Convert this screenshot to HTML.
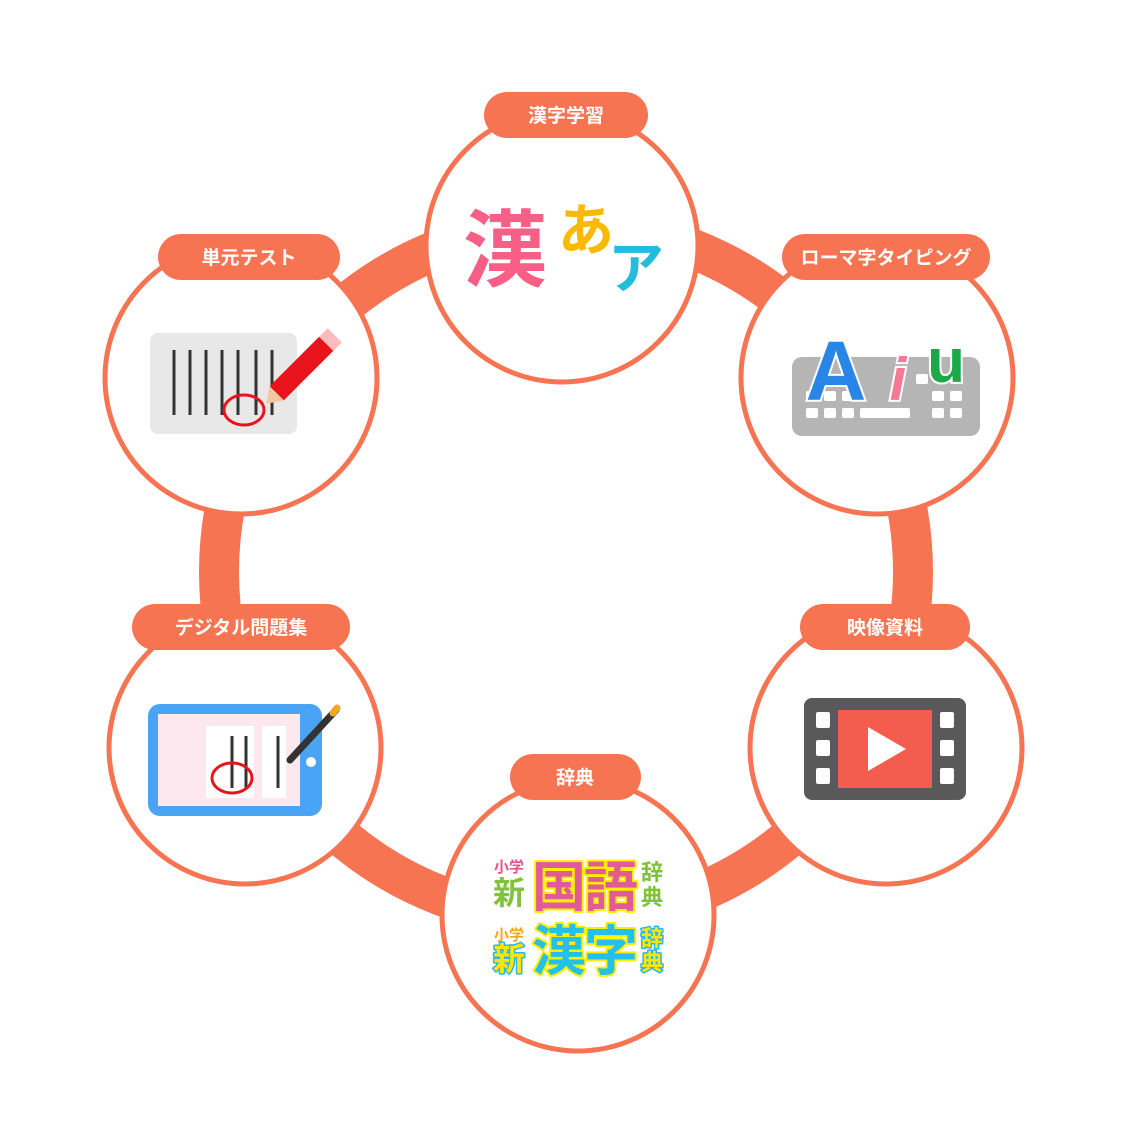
<!DOCTYPE html>
<html><head><meta charset="utf-8"><style>
html,body{margin:0;padding:0;background:#fff}
svg{display:block}
text{font-family:"Liberation Sans","Noto Sans CJK JP",sans-serif;font-weight:bold}
</style></head><body>
<svg width="1124" height="1125" viewBox="0 0 1124 1125" xmlns="http://www.w3.org/2000/svg">
<circle cx="566" cy="572" r="347" fill="none" stroke="#f67452" stroke-width="40"/>
<g fill="#fff" stroke="#f67452" stroke-width="5">
<circle cx="562" cy="246" r="136"/>
<circle cx="241" cy="378" r="136"/>
<circle cx="877" cy="378" r="136"/>
<circle cx="886" cy="748" r="136"/>
<circle cx="578" cy="915" r="136"/>
<circle cx="245" cy="748" r="136"/>
</g>
<g fill="#f67452">
<rect x="484" y="92" width="164" height="46" rx="23"/>
<rect x="158" y="234" width="182" height="46" rx="23"/>
<rect x="782" y="234" width="208" height="46" rx="23"/>
<rect x="800" y="604" width="170" height="46" rx="23"/>
<rect x="132" y="604" width="218" height="46" rx="23"/>
<rect x="510" y="754" width="131" height="46" rx="23"/>
</g>
<g fill="#fff" font-size="19" text-anchor="middle">
<text x="566" y="122">漢字学習</text>
<text x="249" y="264">単元テスト</text>
<text x="886" y="264">ローマ字タイピング</text>
<text x="885" y="634">映像資料</text>
<text x="241" y="634">デジタル問題集</text>
<text x="575" y="784">辞典</text>
</g>
<!-- kanji icon -->
<text x="505" y="280" font-size="84" fill="#f75f86" text-anchor="middle">漢</text>
<text x="586" y="250" font-size="56" fill="#fbb900" text-anchor="middle">あ</text>
<text x="636" y="288" font-size="56" fill="#22bcdc" text-anchor="middle">ア</text>
<!-- test icon -->
<rect x="150" y="333" width="147" height="101" rx="8" fill="#e8e8e8"/>
<g stroke="#333" stroke-width="3">
<line x1="174" y1="350" x2="174" y2="415"/><line x1="190" y1="350" x2="190" y2="415"/>
<line x1="206" y1="350" x2="206" y2="415"/><line x1="222" y1="350" x2="222" y2="415"/>
<line x1="238" y1="350" x2="238" y2="415"/><line x1="256" y1="350" x2="256" y2="415"/>
<line x1="272" y1="350" x2="272" y2="415"/>
</g>
<ellipse cx="244" cy="410" rx="20" ry="15" fill="none" stroke="#e8141c" stroke-width="3"/>
<g transform="rotate(-45 305 365)">
<rect x="265" y="355" width="70" height="20" fill="#e8141c"/>
<rect x="335" y="355" width="12" height="20" fill="#fbb" />
<polygon points="265,355 250,365 265,375" fill="#f5c7a0"/>
</g>
<!-- keyboard -->
<rect x="792" y="357" width="188" height="79" rx="10" fill="#b5b5b5"/>
<g fill="#fff">
<rect x="806" y="391" width="12" height="10" rx="2"/><rect x="824" y="391" width="12" height="10" rx="2"/><rect x="842" y="391" width="12" height="10" rx="2"/><rect x="932" y="391" width="12" height="10" rx="2"/><rect x="950" y="391" width="12" height="10" rx="2"/>
<rect x="806" y="408" width="12" height="10" rx="2"/><rect x="824" y="408" width="12" height="10" rx="2"/><rect x="842" y="408" width="12" height="10" rx="2"/><rect x="860" y="408" width="50" height="10" rx="2"/><rect x="932" y="408" width="12" height="10" rx="2"/><rect x="950" y="408" width="12" height="10" rx="2"/>
<rect x="916" y="374" width="12" height="10" rx="2"/><rect x="950" y="374" width="12" height="10" rx="2"/>
</g>
<text x="836" y="400" font-size="84" fill="#2a86e6" text-anchor="middle" stroke="#fff" stroke-width="4" paint-order="stroke">A</text>
<text x="898" y="400" font-size="60" fill="#f47995" text-anchor="middle" stroke="#fff" stroke-width="4" paint-order="stroke" font-style="italic">i</text>
<text x="946" y="382" font-size="62" fill="#1ba848" text-anchor="middle" stroke="#fff" stroke-width="4" paint-order="stroke">u</text>
<!-- film -->
<rect x="804" y="698" width="162" height="102" rx="8" fill="#595959"/>
<rect x="838" y="710" width="94" height="78" fill="#f45c4d"/>
<g fill="#fff">
<rect x="816" y="712" width="14" height="16" rx="2"/><rect x="816" y="740" width="14" height="16" rx="2"/><rect x="816" y="768" width="14" height="16" rx="2"/>
<rect x="940" y="712" width="14" height="16" rx="2"/><rect x="940" y="740" width="14" height="16" rx="2"/><rect x="940" y="768" width="14" height="16" rx="2"/>
<polygon points="868,727 868,771 906,749"/>
</g>
<!-- tablet -->
<rect x="148" y="704" width="174" height="112" rx="12" fill="#4aa4f5"/>
<rect x="158" y="714" width="142" height="92" fill="#fde8f0"/>
<rect x="206" y="726" width="48" height="72" fill="#fff"/><rect x="262" y="726" width="24" height="72" fill="#fff"/>
<g stroke="#333" stroke-width="3"><line x1="232" y1="736" x2="232" y2="788"/><line x1="246" y1="736" x2="246" y2="788"/><line x1="278" y1="736" x2="278" y2="788"/></g>
<ellipse cx="232" cy="778" rx="20" ry="15" fill="none" stroke="#e8141c" stroke-width="3"/>
<circle cx="311" cy="762" r="5" fill="#fff"/>
<line x1="290" y1="760" x2="336" y2="710" stroke="#333" stroke-width="7" stroke-linecap="round"/>
<line x1="333" y1="713" x2="337" y2="708" stroke="#f5a623" stroke-width="7" stroke-linecap="round"/>
<!-- dictionaries -->
<g stroke-linejoin="round" paint-order="stroke">
<text x="509" y="872" font-size="15" fill="#e8558c" text-anchor="middle">小学</text>
<text x="509" y="904" font-size="32" fill="#80c23a" text-anchor="middle">新</text>
<text x="584" y="906" font-size="54" fill="#e05b98" stroke="#ffee00" stroke-width="4" text-anchor="middle" letter-spacing="-2">国語</text>
<text x="652" y="880" font-size="22" fill="#80c23a" text-anchor="middle">辞</text>
<text x="652" y="905" font-size="22" fill="#80c23a" text-anchor="middle">典</text>
<text x="509" y="940" font-size="15" fill="#f5a623" text-anchor="middle">小学</text>
<text x="509" y="970" font-size="32" fill="#ffe600" stroke="#29b8e8" stroke-width="3" text-anchor="middle">新</text>
<text x="584" y="970" font-size="54" fill="#22c0ea" stroke="#ffee00" stroke-width="4" text-anchor="middle" letter-spacing="-2">漢字</text>
<text x="652" y="946" font-size="22" fill="#ffe600" stroke="#29b8e8" stroke-width="3" text-anchor="middle">辞</text>
<text x="652" y="970" font-size="22" fill="#ffe600" stroke="#29b8e8" stroke-width="3" text-anchor="middle">典</text>
</g>
</svg>
</body></html>
